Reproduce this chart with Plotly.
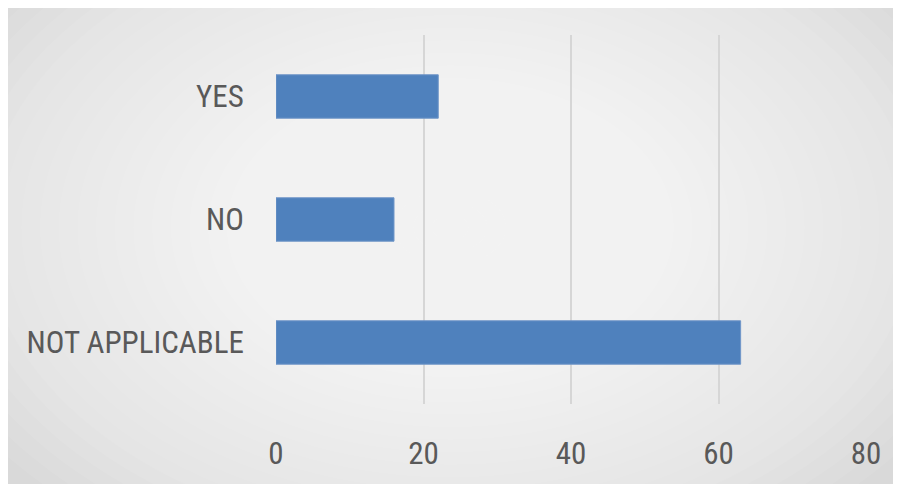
import plotly.graph_objects as go

categories = ["YES", "NO", "NOT APPLICABLE"]
values = [22, 16, 63]
x_ticks = [0, 20, 40, 60, 80]

OFF = 8  # page body margin
W, H = 901 - OFF, 484 - OFF
L, R, T, B = 275.5 - OFF, 866.0 - OFF, 35.0 - OFF, 409.0 - OFF

def px_x(p):
    return (p - OFF - L) / (R - L)

def px_y(p):
    return (B - (p - OFF)) / (B - T)

fig = go.Figure(go.Bar(
    x=values, y=categories, orientation="h",
    marker=dict(color="#4f81bd", line=dict(color="#7096c8", width=1)),
    width=0.353,
))

shapes = [dict(type="rect", xref="paper", yref="paper",
               x0=px_x(7), x1=px_x(898), y0=px_y(5), y1=px_y(490),
               fillcolor="#d9d9d9", line=dict(width=0), layer="below")]
cx, cy = 450, 230
n = 30
for i in range(n):
    f = 1 - i / n
    rx, ry = 560 * f, 380 * f
    shapes.append(dict(type="circle", xref="paper", yref="paper",
                       x0=px_x(cx - rx), x1=px_x(cx + rx),
                       y0=px_y(cy + ry), y1=px_y(cy - ry),
                       fillcolor="#f8fafd", opacity=0.07,
                       line=dict(width=0), layer="below"))
# mask outside of frame
shapes += [
    dict(type="rect", xref="paper", yref="paper", x0=px_x(-50), x1=px_x(7), y0=px_y(-50), y1=px_y(600), fillcolor="white", line=dict(width=0), layer="below"),
    dict(type="rect", xref="paper", yref="paper", x0=px_x(898), x1=px_x(1000), y0=px_y(-50), y1=px_y(600), fillcolor="white", line=dict(width=0), layer="below"),
    dict(type="rect", xref="paper", yref="paper", x0=px_x(-50), x1=px_x(1000), y0=px_y(-50), y1=px_y(5), fillcolor="white", line=dict(width=0), layer="below"),
]

font = dict(family="Liberation Sans Narrow, Arial Narrow, Roboto Condensed, Liberation Sans", size=31, color="#595959")

fig.update_layout(
    width=W, height=H,
    margin=dict(l=L, r=W - R, t=T, b=H - B, pad=0),
    paper_bgcolor="white", plot_bgcolor="rgba(0,0,0,0)",
    showlegend=False,
    shapes=shapes,
    font=font,
    bargap=0.647,
    xaxis=dict(range=[0, 80], tickvals=x_ticks, showgrid=True, gridcolor="#d6d6d6", gridwidth=1.5,
               zeroline=False, showline=False, ticks="outside", ticklen=22,
               tickcolor="rgba(0,0,0,0)", tickfont=font, fixedrange=True),
    yaxis=dict(autorange="reversed", showgrid=False, zeroline=False, showline=False,
               ticks="outside", ticklen=25, tickcolor="rgba(0,0,0,0)", tickfont=font),
)

fig.write_html("out.html")
